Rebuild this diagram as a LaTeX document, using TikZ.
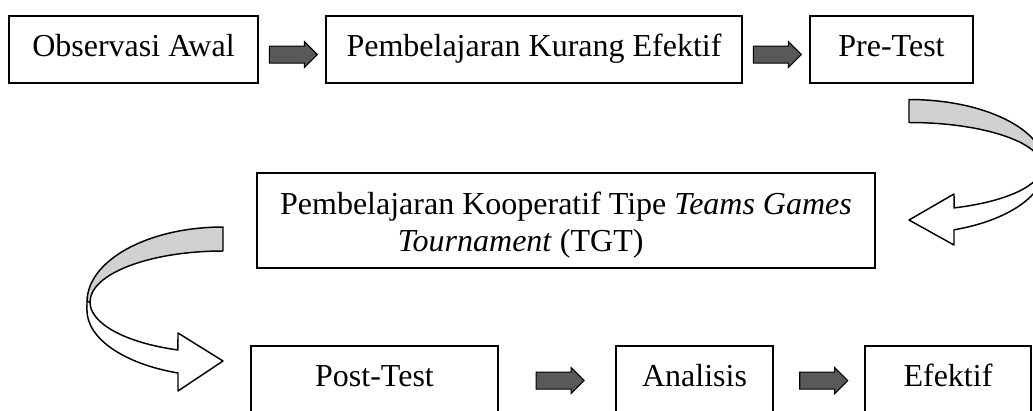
\documentclass[tikz,border=0pt]{standalone}
\usepackage{fontspec}
\setmainfont{Liberation Serif}
\usetikzlibrary{shapes.arrows}

\newcommand{\px}{0.375pt}

\tikzset{
  kotakdasar/.style={draw, line width=0.45pt, minimum height=25.125pt, inner sep=0pt,
    font=\fontsize{12pt}{13.8pt}\selectfont},
  kotak/.style={kotakdasar, text height=8.5pt, text depth=3.6pt},
  panah/.style={single arrow, draw, line width=0.4pt, fill=black!65, inner xsep=0pt,
    inner ysep=3pt, minimum height=18pt, single arrow head extend=1.6875pt},
  pita/.style={draw, line width=0.55pt, line join=round},
}

\begin{document}
\begin{tikzpicture}[x=\px, y=-\px]
  \useasboundingbox (0,0) rectangle (1033,410);

  \node[kotak, minimum width=93.375pt] (obs) at (133.5,49.5) {Observasi Awal};
  \node[kotak, minimum width=156pt] (pkef) at (534,49.5) {Pembelajaran Kurang Efektif};
  \node[kotak, minimum width=61.125pt] (pre) at (891.5,49.5) {Pre-Test};
  \node[kotakdasar, minimum width=231.75pt, minimum height=35.625pt, align=center]
    (tgt) at (566,220.5)
    {\rule{0pt}{11.8pt}Pembelajaran Kooperatif Tipe \textit{Teams Games}\\
     \textit{Tournament} (TGT)\hspace*{34pt}};
  \node[kotak, minimum width=92.625pt] (post) at (374.5,379.5) {Post-Test};
  \node[kotak, minimum width=58.875pt] (anl) at (694.5,379.5) {Analisis};
  \node[kotak, minimum width=62.25pt] (efk) at (948,379.5) {Efektif};

  \path (obs.east) -- (pkef.west) node[panah, pos=.456, yshift=-1.9pt] (p1) {};
  \path (pkef.east) -- (pre.west) node[panah, pos=.456, yshift=-1.9pt] (p2) {};
  \path (post.east) -- (anl.west) node[panah, pos=.49, yshift=-0.4pt] (p3) {};
  \path (anl.east) -- (efk.west) node[panah, pos=.505, yshift=-0.4pt] (p4) {};

  % lengkung kanan: Pre-Test ke TGT
  \draw[pita, fill=black!18] (909,99.5)
    arc[start angle=-90, end angle=0, x radius=136, y radius=67] -- (1042,166.5)
    arc[start angle=0, end angle=-90, x radius=133, y radius=44] -- cycle;
  \draw[pita, fill=white] (1042,166.5)
    arc[start angle=0, end angle=70.2, x radius=133, y radius=44]
    -- (954,194) -- (909,220) -- (954,245) -- (954,229.8)
    arc[start angle=70.7, end angle=0, x radius=136, y radius=67] -- cycle;

  % lengkung kiri: TGT ke Post-Test
  \draw[pita, fill=black!18] (223,227)
    arc[start angle=-90, end angle=-180, x radius=136, y radius=75] -- (90,302)
    arc[start angle=180, end angle=270, x radius=133, y radius=51] -- cycle;
  \draw[pita, fill=white] (90,302)
    arc[start angle=180, end angle=109.8, x radius=133, y radius=51]
    -- (178,333) -- (223,361) -- (178,391) -- (178,373)
    arc[start angle=109.3, end angle=180, x radius=136, y radius=66.7] -- (87,302) -- cycle;
\end{tikzpicture}
\end{document}
